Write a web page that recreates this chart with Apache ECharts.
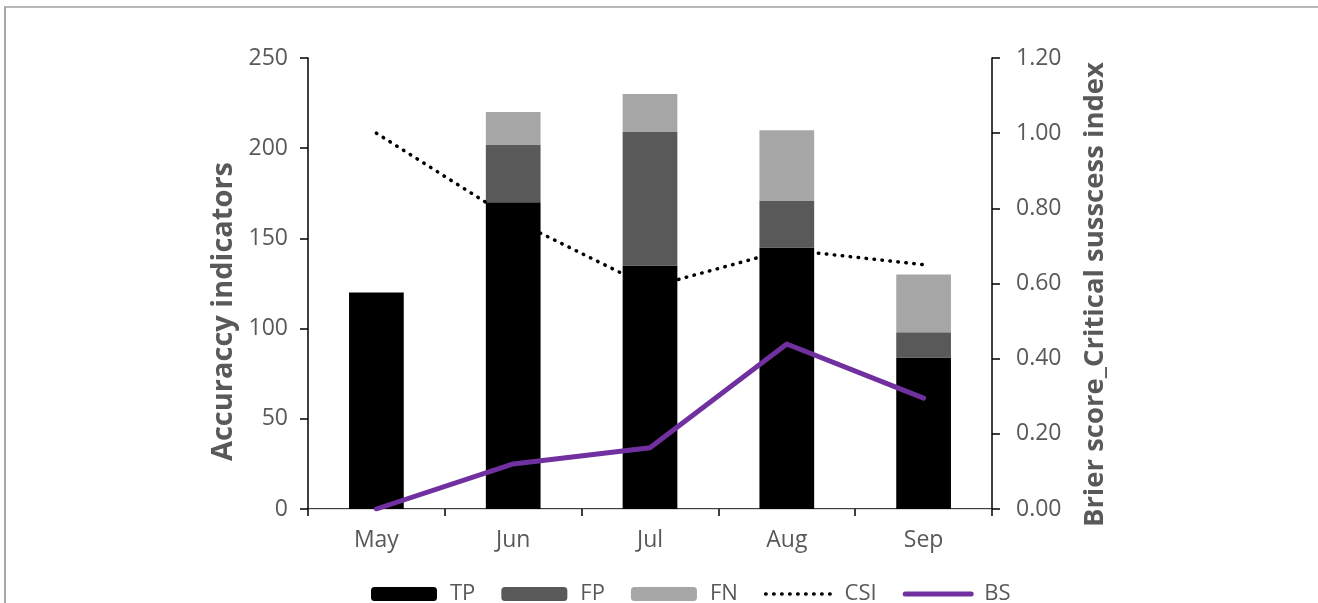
<!DOCTYPE html>
<html>
<head>
<meta charset="utf-8">
<script src="https://cdn.jsdelivr.net/npm/echarts@6/dist/echarts.min.js"></script>
<style>
  html, body { margin: 0; padding: 0; background: #fff; }
  #chart { position: absolute; left: 0; top: 0; width: 1318px; height: 603px; }
  #frame { position: absolute; left: 4px; top: 6px; width: 1314px; height: 597px;
           border-top: 2px solid #b8b8b8; border-left: 2px solid #a8a8a8; pointer-events: none; }
</style>
</head>
<body>
<div id="chart"></div>
<div id="frame"></div>
<script>
const months = ['May', 'Jun', 'Jul', 'Aug', 'Sep']
const tp = [120, 170, 135, 145, 84]
const fp = [0, 32, 74, 26, 14]
const fn = [0, 18, 21, 39, 32]
const csi = [1.00, 0.77, 0.59, 0.69, 0.65]
const bs = [0.00, 0.12, 0.163, 0.439, 0.295]

const FONT = '"Open Sans", "Noto Sans", sans-serif'
const GREY = '#595959'
const PURPLE = '#7030a0'
const csiLine = { color: '#000', width: 3.5, type: [0.5, 7.5], cap: 'round' }
const bsLine = { color: PURPLE, width: 5, cap: 'round', join: 'round' }

const chart = echarts.init(document.getElementById('chart'))

chart.setOption({
  animation: false,
  textStyle: { fontFamily: FONT },
  grid: { left: 308, right: 326, top: 58, bottom: 94 },
  legend: {
    top: 578,
    left: 366,
    itemWidth: 66,
    itemHeight: 14,
    itemGap: 26,
    textStyle: { fontSize: 22, color: GREY, fontFamily: FONT, padding: [0, 0, 0, 8] },
    data: [
      'TP', 'FP', 'FN',
      { name: 'CSI', itemStyle: { opacity: 0 }, lineStyle: csiLine },
      { name: 'BS', itemStyle: { opacity: 0 }, lineStyle: bsLine },
    ],
  },
  xAxis: [
    {
      type: 'category',
      data: months,
      axisLine: { lineStyle: { color: '#000', width: 1.5 } },
      axisTick: { show: true, length: 7, lineStyle: { color: '#000', width: 1.5 } },
      axisLabel: { fontSize: 23, color: GREY, margin: 20 },
    },
    {
      type: 'category',
      data: months,
      position: 'top',
      axisLine: { lineStyle: { color: '#d9d9d9', width: 1 } },
      axisTick: { show: false },
      axisLabel: { show: false },
    },
  ],
  yAxis: [
    {
      type: 'value', min: 0, max: 250, interval: 50,
      axisLine: { show: true, lineStyle: { color: '#000', width: 1.5 } },
      axisTick: { show: true, length: 8, lineStyle: { color: '#000', width: 1.5 } },
      axisLabel: { fontSize: 23, color: GREY, margin: 20 },
      splitLine: { show: false },
    },
    {
      type: 'value', min: 0, max: 1.2, interval: 0.2,
      axisLine: { show: true, lineStyle: { color: '#000', width: 1.5 } },
      axisTick: { show: true, length: 8, lineStyle: { color: '#000', width: 1.5 } },
      axisLabel: { fontSize: 23, color: GREY, margin: 24, formatter: v => v.toFixed(2) },
      splitLine: { show: false },
    },
  ],
  graphic: [
    {
      type: 'text', left: 209, top: 162, rotation: Math.PI / 2,
      style: { text: 'Accuraccy indicators', font: 'bold 29px ' + FONT, fill: GREY },
    },
    {
      type: 'text', left: 1081, top: 62, rotation: Math.PI / 2,
      style: { text: 'Brier score_Critical susscess index', font: 'bold 27.5px ' + FONT, fill: GREY },
    },
  ],
  series: [
    { name: 'TP', type: 'bar', stack: 'acc', data: tp, barWidth: '40%', itemStyle: { color: '#000000' } },
    { name: 'FP', type: 'bar', stack: 'acc', data: fp, itemStyle: { color: '#595959' } },
    { name: 'FN', type: 'bar', stack: 'acc', data: fn, itemStyle: { color: '#a6a6a6' } },
    {
      name: 'CSI', type: 'line', yAxisIndex: 1, data: csi, symbol: 'none',
      itemStyle: { color: '#000' },
      lineStyle: csiLine,
    },
    {
      name: 'BS', type: 'line', yAxisIndex: 1, data: bs, symbol: 'none',
      itemStyle: { color: PURPLE },
      lineStyle: bsLine,
    },
  ],
})
</script>
</body>
</html>
